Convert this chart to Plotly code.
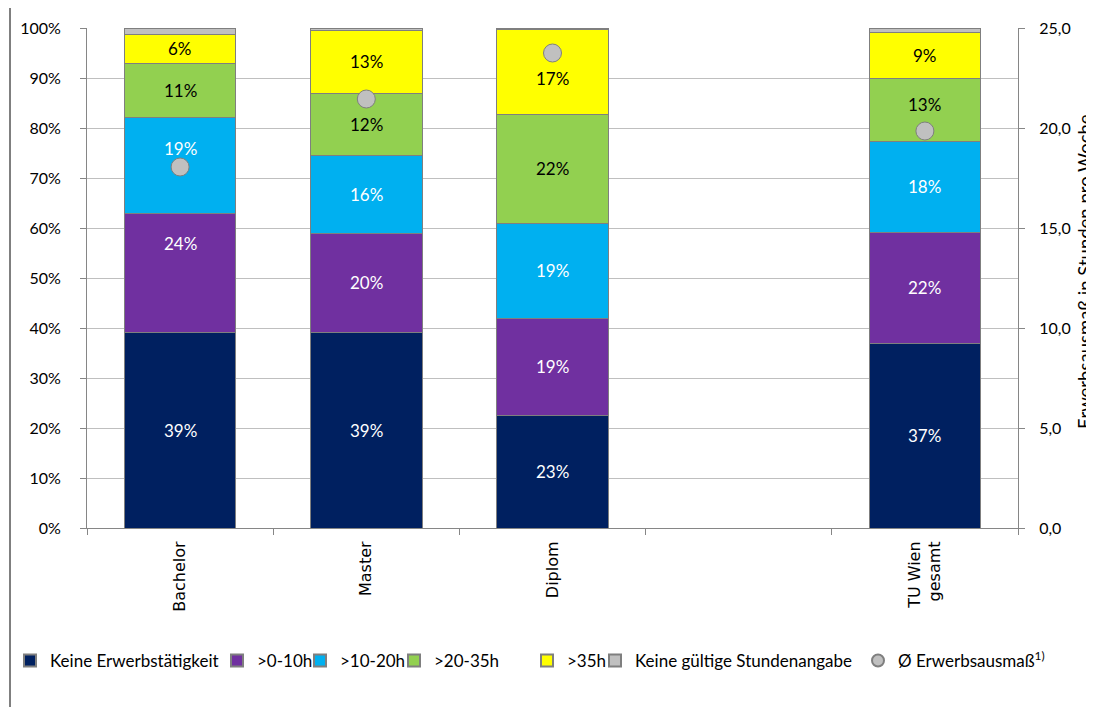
import plotly.graph_objects as go

categories = ["Bachelor", "Master", "Diplom", " ", "TU Wien<br>gesamt"]
series_names = ["Keine Erwerbstätigkeit", ">0-10h", ">10-20h", ">20-35h", ">35h", "Keine gültige Stundenangabe"]
keine = [39.1, 39.1, 22.6, None, 37.0]
h0_10 = [23.8, 19.9, 19.4, None, 22.2]
h10_20 = [19.2, 15.6, 19.0, None, 18.2]
h20_35 = [10.8, 12.4, 21.8, None, 12.6]
h35 = [5.9, 12.6, 17.0, None, 9.2]
keine_angabe = [1.2, 0.4, 0.2, None, 0.8]
avg_hours = [18.05, 21.45, 23.75, None, 19.85]
avg_name = "Ø Erwerbsausmaß<sup>1)</sup>"
left_ticks = [0, 10, 20, 30, 40, 50, 60, 70, 80, 90, 100]
right_ticks = [0, 5, 10, 15, 20, 25]

series_values = [keine, h0_10, h10_20, h20_35, h35, keine_angabe]
colors = ["#002060", "#7030A0", "#00B0F0", "#92D050", "#FFFF00", "#C0C0C0"]
text_colors = ["white", "white", "white", "black", "black", None]
# relative label position inside each segment (0.5 = centre), as in the original layout
label_pos = [
    [0.5, 0.5, 0.5, None, 0.5],
    [0.75, 0.5, 0.5, None, 0.5],
    [0.68, 0.5, 0.5, None, 0.5],
    [0.5, 0.5, 0.5, None, 0.58],
    [0.5, 0.5, 0.42, None, 0.5],
    [None, None, None, None, None],
]
legend_text_x = [50, 257, 340, 434, 567, 635, 898]  # screen px where each legend text starts

FONT = "Lato"
OFF = 8  # page body margin
W, H = 1094 - OFF, 715 - 2 * OFF
L, R, T, B = 87 - OFF, 1018 - OFF, 28 - OFF, 528 - OFF
pw, ph = R - L, B - T

def px_x(x):
    return (x - OFF - L) / pw

def px_y(y):
    return (B - (y - OFF)) / ph

fig = go.Figure()
annotations = []
for i, (name, vals, col) in enumerate(zip(series_names, series_values, colors)):
    fig.add_trace(go.Bar(
        x=categories, y=vals, name=name,
        marker=dict(color=col, line=dict(color="#7F7F7F", width=1)),
        hoverinfo="skip", legend="legend" if i == 0 else f"legend{i + 1}",
    ))

# data labels computed from the stacked values
for j, cat in enumerate(categories):
    base = 0.0
    for i, vals in enumerate(series_values):
        v = vals[j]
        if v is None:
            continue
        frac = label_pos[i][j]
        if frac is not None and text_colors[i] is not None:
            annotations.append(dict(
                x=cat, y=base + frac * v, xref="x", yref="y", text=f"{round(v)}%",
                showarrow=False, font=dict(size=17, family=FONT, color=text_colors[i]),
            ))
        base += v

fig.add_trace(go.Scatter(
    x=categories, y=avg_hours, name=avg_name, yaxis="y2", mode="markers",
    marker=dict(size=18, color="#C0C0C0", line=dict(color="#7F7F7F", width=1)),
    legend="legend7",
))

annotations.append(dict(text="Erwerbsausmaß in Stunden pro Woche", xref="paper", yref="paper",
                        x=px_x(1085), y=px_y(272), xanchor="center", yanchor="middle",
                        textangle=-90, showarrow=False, font=dict(size=18.5, family=FONT)))

legends = {}
for k, tx in enumerate(legend_text_x):
    key = "legend" if k == 0 else f"legend{k + 1}"
    legends[key] = dict(orientation="h", x=px_x(tx - 40), y=px_y(661), xanchor="left",
                        yanchor="middle", font=dict(size=17, family=FONT),
                        itemwidth=30, itemsizing="constant", bgcolor="rgba(0,0,0,0)")

fig.update_layout(
    width=W, height=H,
    margin=dict(l=L, r=W - R, t=T, b=H - B, autoexpand=False),
    barmode="stack", bargap=0.4,
    plot_bgcolor="white", paper_bgcolor="white",
    separators=",.",
    font=dict(family=FONT, size=16, color="black"),
    showlegend=True,
    xaxis=dict(type="category", categoryorder="array", categoryarray=categories,
               showline=True, linecolor="#868686", linewidth=1,
               ticks="outside", tickson="boundaries", ticklen=6, tickcolor="#868686",
               tickangle=-90, tickfont=dict(family="DejaVu Sans", size=16, color="black"),
               ticklabelstandoff=6, showgrid=False),
    yaxis=dict(range=[0, 100], tickvals=left_ticks, ticktext=[f"{t}%" for t in left_ticks],
               showline=True, linecolor="#868686", linewidth=1,
               ticks="outside", ticklen=6, tickcolor="#868686",
               showgrid=True, gridcolor="#BFBFBF", gridwidth=1,
               ticklabelstandoff=16, tickfont=dict(size=16, family=FONT),
               zeroline=False),
    yaxis2=dict(range=[0, 25], tickvals=right_ticks, ticktext=[f"{t},0" for t in right_ticks],
                overlaying="y", side="right",
                showline=True, linecolor="#868686", linewidth=1,
                ticks="outside", ticklen=6, tickcolor="#868686",
                showgrid=False, zeroline=False,
                ticklabelstandoff=11, tickfont=dict(size=16, family=FONT)),
    shapes=[dict(type="rect", xref="paper", yref="paper",
                 x0=px_x(10), x1=px_x(1200), y0=px_y(800), y1=px_y(7),
                 line=dict(color="black", width=1), fillcolor="rgba(0,0,0,0)", layer="below")],
    annotations=annotations,
    **legends,
)

fig.write_html("out.html")
